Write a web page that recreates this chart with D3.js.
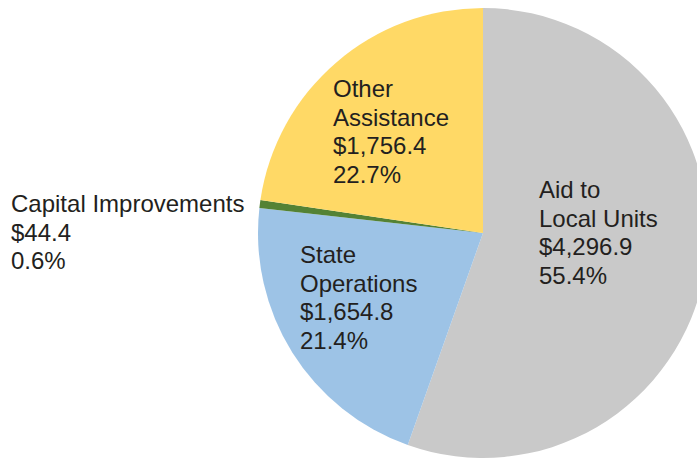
<!DOCTYPE html>
<html>
<head>
<meta charset="utf-8">
<script src="https://cdn.jsdelivr.net/npm/d3@7"></script>
<style>
  html, body { margin: 0; padding: 0; background: #fff; }
  svg { display: block; }
  text { font-family: "Liberation Sans", Arial, sans-serif; font-size: 24px; fill: #231f20; }
</style>
</head>
<body>
<div id="chart"></div>
<script>
// data, clockwise from 12 o'clock
const categories = ["Aid to Local Units", "State Operations", "Capital Improvements", "Other Assistance"];
const amounts = [4296.9, 1654.8, 44.4, 1756.4];
const percents = ["55.4%", "21.4%", "0.6%", "22.7%"];
const labelLines = [
    ["Aid to", "Local Units"],
    ["State", "Operations"],
    ["Capital Improvements"],
    ["Other", "Assistance"]
];
const colors = ["#c9c9c9", "#9dc3e6", "#548235", "#ffd966"];

const width = 697, height = 461;
const cx = 483, cy = 233, radius = 225;

// where each label block starts (x, first baseline)
const labelPos = [[539, 198], [300, 263], [11, 212], [333, 97]];
const lineH = 28.7;

const svg = d3.select("#chart").append("svg")
    .attr("width", width)
    .attr("height", height);

const pie = d3.pie().sort(null).value(d => d)(amounts);
const arc = d3.arc().innerRadius(0).outerRadius(radius);

const g = svg.append("g").attr("transform", `translate(${cx}, ${cy})`);
g.selectAll("path")
    .data(pie)
    .join("path")
    .attr("d", arc)
    .attr("fill", (d, i) => colors[i]);

const fmt = d3.format(",.1f");
categories.forEach((c, i) => {
    const lines = labelLines[i].concat(["$" + fmt(amounts[i]), percents[i]]);
    const t = svg.append("text")
        .attr("x", labelPos[i][0])
        .attr("y", labelPos[i][1]);
    lines.forEach((l, j) => {
        t.append("tspan")
            .attr("x", labelPos[i][0])
            .attr("y", labelPos[i][1] + j * lineH)
            .text(l);
    });
});
</script>
</body>
</html>
